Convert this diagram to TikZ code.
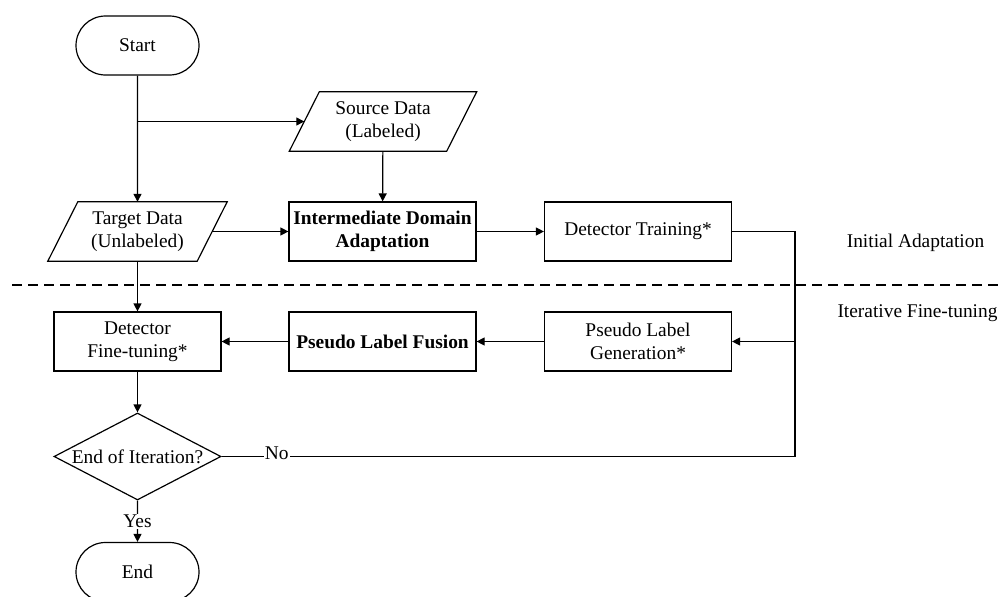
\documentclass[tikz,border=0pt]{standalone}
\usepackage{fontspec}
\setmainfont{Liberation Serif}
\usetikzlibrary{shapes.geometric,shapes.misc,arrows.meta}
\begin{document}
\begin{tikzpicture}[x=1pt,y=-1pt,
  every node/.style={font=\fontsize{19.4}{23}\selectfont, align=center},
  strong/.style={font=\fontsize{19.4}{23}\selectfont\bfseries},
  line/.style={line width=1.2pt},
  arrow/.style={line, -{Triangle[length=8pt,width=8pt]}},
  terminal/.style={rounded rectangle, draw, line, minimum width=123pt, minimum height=59pt, inner sep=0pt},
  process/.style={rectangle, draw, line, minimum width=187pt, minimum height=59pt, inner sep=0pt},
  decision/.style={diamond, draw, line, minimum width=167pt, minimum height=87pt, inner sep=0pt},
  % slanted data box: the rectangle has the side length, outline drawn around it
  dataio/.style={rectangle, minimum width=#1, minimum height=59pt, inner sep=0pt,
    append after command={\pgfextra{\draw[line]
      ([xshift=15pt]\tikzlastnode.north west) -- ([xshift=15pt]\tikzlastnode.north east) --
      ([xshift=-15pt]\tikzlastnode.south east) -- ([xshift=-15pt]\tikzlastnode.south west) -- cycle;}}},
  sep/.style={line, dash pattern=on 10pt off 6pt},
  tag/.style={fill=white, inner sep=1pt}]
\useasboundingbox (0,0) rectangle (999,597);

% phase separator
\coordinate (dl) at (12,285);
\coordinate (dr) at (999,285);
\draw[sep] (dl) -- (dr);
\node (ia) at (915.5,243) {Initial Adaptation};
\node (ift) at (917.5,313) {Iterative Fine-tuning};

% steps
\node[terminal] (start) at (137.5,45.5) {Start};
\node[dataio=157pt] (src) at (383,121.5) {Source Data\\(Labeled)};
\node[dataio=149pt] (tgt) at (137.5,231.5) {Target Data\\(Unlabeled)};
\node[process, strong] (ida) at (382.5,231.5) {Intermediate Domain\\Adaptation};
\node[process] (dt) at (638,231.5) {Detector Training*};
\node[process] (plg) at (638,341.5) {Pseudo Label\\Generation*};
\node[process, strong] (plf) at (382.5,341.5) {Pseudo Label Fusion};
\node[process, minimum width=167pt] (dft) at (137.5,341.5) {Detector\\Fine-tuning*};
\node[decision, label={center:End of Iteration?}] (dec) at (137.5,456.5) {};
\node[terminal] (end) at (137.5,572) {End};

% connectors
\coordinate (split) at (start |- src);
\coordinate (loop) at (795,456.5);
\draw[arrow] (start) -- (tgt);
\draw[arrow] (split) -- (src);
\draw[arrow] (src) -- (ida);
\draw[arrow] (tgt) -- (ida);
\draw[arrow] (ida) -- (dt);
\draw[line] (dt.east) -| (loop);
\draw[arrow] (plg.east -| loop) -- (plg.east);
\draw[arrow] (plg) -- (plf);
\draw[arrow] (plf) -- (dft);
\draw[arrow] (tgt) -- (dft);
\draw[arrow] (dft) -- (dec);
\draw[line] (dec.east) -- node[pos=0.096, tag, yshift=3pt] {No} (loop);
\draw[arrow] (dec) -- node[tag] {Yes} (end);
\end{tikzpicture}
\end{document}
